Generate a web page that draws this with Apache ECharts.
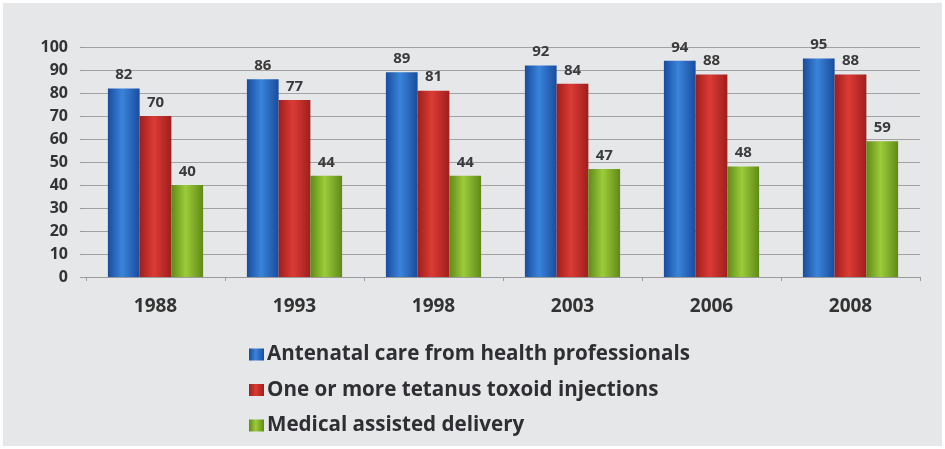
<!DOCTYPE html>
<html>
<head>
<meta charset="utf-8">
<script src="https://cdn.jsdelivr.net/npm/echarts@6/dist/echarts.min.js"></script>
<style>
  html, body { margin: 0; padding: 0; background: #ffffff; }
  #frame { position: absolute; left: 3px; top: 3px; width: 939px; height: 443px; background: #e6e7e9; }
  #chart { width: 939px; height: 443px; }
</style>
</head>
<body>
<div id="frame"><div id="chart"></div></div>
<script>
// Survey years and coverage percentages
var years = ['1988', '1993', '1998', '2003', '2006', '2008'];
var antenatalCare = [82, 86, 89, 92, 94, 95];
var tetanusInjections = [70, 77, 81, 84, 88, 88];
var assistedDelivery = [40, 44, 44, 47, 48, 59];
var seriesNames = [
  'Antenatal care from health professionals',
  'One or more tetanus toxoid injections',
  'Medical assisted delivery'
];
var yTicks = { min: 0, max: 100, interval: 10 };

// Cylinder-like shading across each bar
function shade(dark, light) {
  return new echarts.graphic.LinearGradient(0, 0, 1, 0, [
    { offset: 0, color: dark },
    { offset: 0.45, color: light },
    { offset: 1, color: dark }
  ]);
}
var palette = [
  shade('#1a4c9c', '#3a84dc'),
  shade('#9e1f1c', '#dc3b35'),
  shade('#5f8a18', '#9ccc3a')
];

var font = '"Open Sans", "Noto Sans", sans-serif';

function barSeries(name, data, color) {
  return {
    name: name,
    type: 'bar',
    data: data,
    barGap: '0%',
    barCategoryGap: '31.5%',
    itemStyle: { color: color },
    label: {
      show: true,
      position: 'top',
      distance: 6,
      color: '#3a3a3a',
      fontFamily: font,
      fontWeight: 'bold',
      fontSize: 15
    }
  };
}

var chart = echarts.init(document.getElementById('chart'));
chart.setOption({
  animation: false,
  backgroundColor: '#e6e7e9',
  grid: { left: 83, right: 22, top: 44, bottom: 169 },
  legend: {
    orient: 'vertical',
    left: 241,
    top: 336,
    itemGap: 14.5,
    itemWidth: 15,
    itemHeight: 12,
    icon: 'rect',
    textStyle: {
      color: '#2f2f33',
      fontFamily: font,
      fontWeight: 'bold',
      fontSize: 20.6,
      padding: [0, 0, 0, -2]
    },
    data: seriesNames
  },
  xAxis: {
    type: 'category',
    data: years,
    axisLine: { show: true, lineStyle: { color: '#9a9a9a', width: 1 } },
    axisTick: { show: true, length: 4, lineStyle: { color: '#9a9a9a' } },
    axisLabel: {
      color: '#333333',
      fontFamily: font,
      fontWeight: 'bold',
      fontSize: 19,
      margin: 20
    }
  },
  yAxis: {
    type: 'value',
    min: yTicks.min,
    max: yTicks.max,
    interval: yTicks.interval,
    axisLine: { show: false },
    axisTick: { show: true, length: 6, lineStyle: { color: '#9a9a9a' } },
    splitLine: { lineStyle: { color: '#a2a2a2', width: 1 } },
    axisLabel: {
      color: '#333333',
      fontFamily: font,
      fontWeight: 'bold',
      fontSize: 16,
      margin: 18
    }
  },
  series: [
    barSeries(seriesNames[0], antenatalCare, palette[0]),
    barSeries(seriesNames[1], tetanusInjections, palette[1]),
    barSeries(seriesNames[2], assistedDelivery, palette[2])
  ]
});
</script>
</body>
</html>
